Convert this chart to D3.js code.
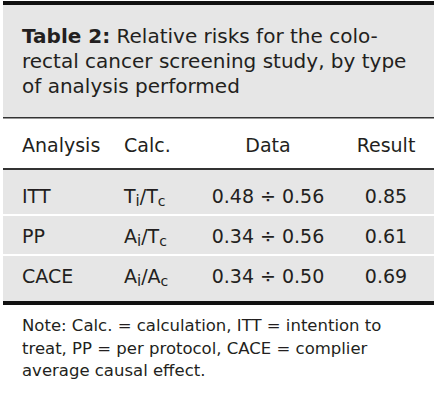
<!DOCTYPE html>
<html><head><meta charset="utf-8">
<script src="https://cdn.jsdelivr.net/npm/d3@7"></script>
<style>html,body{margin:0;padding:0;background:#fff;}svg{display:block;}</style>
</head><body><svg id="c" width="437" height="400"></svg>
<script>
const titleBold = "Table 2:";
const titleLines = [" Relative risks for the colo-", "rectal cancer screening study, by type", "of analysis performed"];
const headers = ["Analysis", "Calc.", "Data", "Result"];
const analyses = ["ITT", "PP", "CACE"];
const calcNum = ["T", "A", "A"];
const calcDen = ["T", "T", "A"];
const numerators = [0.48, 0.34, 0.34];
const denominators = [0.56, 0.56, 0.50];
const results = [0.85, 0.61, 0.69];
const noteLines = ["Note: Calc. = calculation, ITT = intention to", "treat, PP = per protocol, CACE = complier", "average causal effect."];

const svg = d3.select("#c");
const font = "'DejaVu Sans', sans-serif";
const ink = "#231f20";
const gray = "#e6e6e6";
const L = 3, R = 434;

// title block
svg.append("rect").attr("x", L).attr("y", 4).attr("width", R - L).attr("height", 113).attr("fill", gray);
svg.append("rect").attr("x", L).attr("y", 1).attr("width", R - L).attr("height", 4).attr("fill", "#111");
svg.append("rect").attr("x", L).attr("y", 117).attr("width", R - L).attr("height", 1.5).attr("fill", "#333");
const tl = svg.append("g").attr("font-family", font).attr("font-size", 20).attr("fill", ink);
titleLines.forEach((s, i) => {
  const t = tl.append("text").attr("x", 22).attr("y", 43 + i * 25);
  if (i === 0) t.append("tspan").attr("font-weight", "bold").text(titleBold);
  t.append("tspan").text(s);
});

// columns
const fmt = d3.format(".2f");
const colX = d3.scaleOrdinal().domain(headers).range([22, 124, 268, 386]);
const colAnchor = d3.scaleOrdinal().domain(headers).range(["start", "start", "middle", "middle"]);

svg.append("g").attr("font-family", font).attr("font-size", 19).attr("fill", ink)
  .selectAll("text").data(headers).join("text")
  .attr("x", d => colX(d)).attr("y", 152).attr("text-anchor", d => colAnchor(d)).text(d => d);

svg.append("rect").attr("x", L).attr("y", 168).attr("width", R - L).attr("height", 2).attr("fill", "#333");

// rows
const yText = d3.scalePoint().domain(analyses).range([203, 283]);
const step = yText.step();
const top0 = 170, bottom = 301, gap = 2;
const rowTop = (d, i) => i === 0 ? top0 : yText(d) - step / 2 - 8 + gap / 2;
const rowBottom = (d, i) => i === analyses.length - 1 ? bottom : yText(d) + step / 2 - 8 - gap / 2;
svg.append("g").selectAll("rect").data(analyses).join("rect")
  .attr("x", L).attr("y", rowTop).attr("width", R - L)
  .attr("height", (d, i) => rowBottom(d, i) - rowTop(d, i)).attr("fill", gray);
const rows = svg.append("g").attr("font-family", font).attr("font-size", 19).attr("fill", ink)
  .selectAll("g").data(analyses).join("g")
  .attr("transform", d => `translate(0,${yText(d)})`);
rows.append("text").attr("x", colX("Analysis")).text(d => d);
rows.append("text").attr("x", colX("Calc.")).each(function (d, i) {
  const t = d3.select(this);
  t.append("tspan").text(calcNum[i]);
  t.append("tspan").attr("font-size", 15).attr("dy", 3).text("i");
  t.append("tspan").attr("dy", -3).text("/" + calcDen[i]);
  t.append("tspan").attr("font-size", 14).attr("dy", 3).text("c");
});
rows.append("text").attr("x", colX("Data")).attr("text-anchor", "middle")
  .text((d, i) => `${fmt(numerators[i])} ÷ ${fmt(denominators[i])}`);
rows.append("text").attr("x", colX("Result")).attr("text-anchor", "middle")
  .text((d, i) => fmt(results[i]));

svg.append("rect").attr("x", L).attr("y", 301).attr("width", R - L).attr("height", 4).attr("fill", "#111");

// note
svg.append("g").attr("font-family", font).attr("font-size", 16.5).attr("fill", ink)
  .selectAll("text").data(noteLines).join("text")
  .attr("x", 22).attr("y", (d, i) => 331 + i * 22.5).text(d => d);
</script></body></html>
